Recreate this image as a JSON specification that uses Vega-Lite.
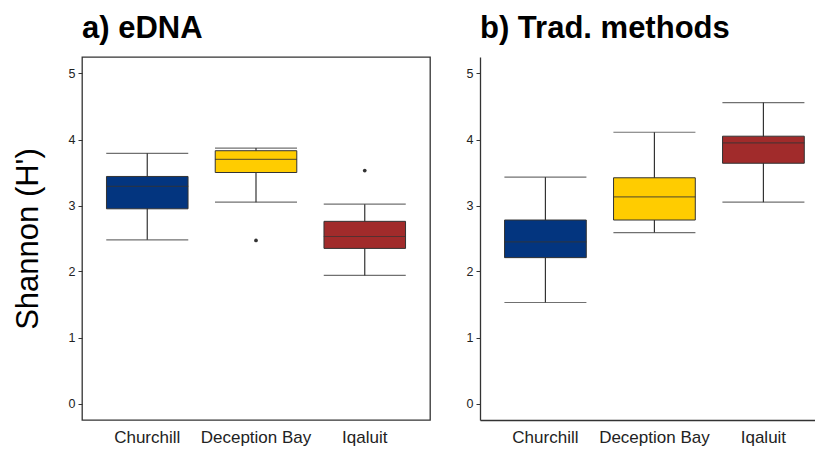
{
  "$schema": "https://vega.github.io/schema/vega-lite/v6.json",
  "padding": {"left": 11, "top": 12, "right": 0, "bottom": 0},
  "background": "white",
  "datasets": {
    "boxes": [
      {"panel": "eDNA", "site": "Churchill", "lower": 2.48, "q1": 2.95, "median": 3.29, "q3": 3.44, "upper": 3.79},
      {"panel": "eDNA", "site": "Deception Bay", "lower": 3.05, "q1": 3.50, "median": 3.70, "q3": 3.83, "upper": 3.87},
      {"panel": "eDNA", "site": "Iqaluit", "lower": 1.94, "q1": 2.35, "median": 2.53, "q3": 2.76, "upper": 3.02},
      {"panel": "Trad", "site": "Churchill", "lower": 1.53, "q1": 2.21, "median": 2.45, "q3": 2.78, "upper": 3.43},
      {"panel": "Trad", "site": "Deception Bay", "lower": 2.59, "q1": 2.78, "median": 3.13, "q3": 3.42, "upper": 4.11},
      {"panel": "Trad", "site": "Iqaluit", "lower": 3.05, "q1": 3.64, "median": 3.95, "q3": 4.05, "upper": 4.56}
    ],
    "outliers": [
      {"panel": "eDNA", "site": "Deception Bay", "value": 2.47},
      {"panel": "eDNA", "site": "Iqaluit", "value": 3.53}
    ]
  },
  "config": {
    "font": "Liberation Sans",
    "view": {"stroke": "#333333", "strokeWidth": 1.3},
    "axis": {
      "grid": false,
      "labelFont": "Liberation Sans",
      "titleFont": "Liberation Sans"
    },
    "title": {"font": "Liberation Sans", "fontSize": 31, "fontWeight": "bold", "color": "#000000", "anchor": "start", "frame": "group", "offset": 12}
  },
  "spacing": 35,
  "hconcat": [
    {
      "title": {"text": "a) eDNA"},
      "width": 348,
      "height": 363,
      "encoding": {
        "x": {
          "field": "site", "type": "nominal",
          "scale": {"type": "band", "paddingInner": 0.25, "paddingOuter": 0.225, "domain": ["Churchill", "Deception Bay", "Iqaluit"]},
          "axis": {"title": null, "ticks": false, "domain": false, "labelAngle": 0, "labelFontSize": 17, "labelColor": "#222222", "labelPadding": 9}
        }
      },
      "layer": [
        {
          "data": {"name": "boxes"},
          "transform": [{"filter": "datum.panel == 'eDNA'"}],
          "mark": {"type": "rule", "color": "#333333", "strokeWidth": 1.2},
          "encoding": {
            "y": {"field": "lower", "type": "quantitative",
              "scale": {"domain": [-0.25, 5.25], "nice": false, "zero": false},
              "axis": {"title": "Shannon (H')", "titleFontSize": 31, "titleFontWeight": "normal", "titleColor": "#000000", "titlePadding": 24,
                "values": [0, 1, 2, 3, 4, 5], "format": "d", "domain": false, "tickSize": 4, "tickColor": "#333333", "labelFontSize": 12.5, "labelColor": "#222222", "labelPadding": 3}},
            "y2": {"field": "upper"}
          }
        },
        {
          "data": {"name": "boxes"},
          "transform": [{"filter": "datum.panel == 'eDNA'"}],
          "mark": {"type": "tick", "color": "#333333", "thickness": 1.2, "size": 82},
          "encoding": {"y": {"field": "lower", "type": "quantitative"}}
        },
        {
          "data": {"name": "boxes"},
          "transform": [{"filter": "datum.panel == 'eDNA'"}],
          "mark": {"type": "tick", "color": "#333333", "thickness": 1.2, "size": 82},
          "encoding": {"y": {"field": "upper", "type": "quantitative"}}
        },
        {
          "data": {"name": "boxes"},
          "transform": [{"filter": "datum.panel == 'eDNA'"}],
          "mark": {"type": "bar", "stroke": "#333333", "strokeWidth": 1, "opacity": 1},
          "encoding": {
            "y": {"field": "q1", "type": "quantitative"},
            "y2": {"field": "q3"},
            "color": {"field": "site", "type": "nominal", "scale": {"domain": ["Churchill", "Deception Bay", "Iqaluit"], "range": ["#03357f", "#ffcc00", "#a12b2b"]}, "legend": null}
          }
        },
        {
          "data": {"name": "boxes"},
          "transform": [{"filter": "datum.panel == 'eDNA'"}],
          "mark": {"type": "tick", "color": "#333333", "thickness": 1.2, "size": 82},
          "encoding": {"y": {"field": "median", "type": "quantitative"}}
        },
        {
          "data": {"name": "outliers"},
          "transform": [{"filter": "datum.panel == 'eDNA'"}],
          "mark": {"type": "circle", "color": "#333333", "size": 14, "opacity": 1},
          "encoding": {"y": {"field": "value", "type": "quantitative"}}
        }
      ]
    },
    {
      "title": {"text": "b) Trad. methods"},
      "width": 335,
      "height": 363,
      "view": {"stroke": null},
      "encoding": {
        "x": {
          "field": "site", "type": "nominal",
          "scale": {"type": "band", "paddingInner": 0.25, "paddingOuter": 0.1617, "align": 0.696, "domain": ["Churchill", "Deception Bay", "Iqaluit"]},
          "axis": {"title": null, "ticks": false, "domain": true, "domainColor": "#333333", "domainWidth": 1.3, "labelAngle": 0, "labelFontSize": 17, "labelColor": "#222222", "labelPadding": 9}
        }
      },
      "layer": [
        {
          "data": {"name": "boxes"},
          "transform": [{"filter": "datum.panel == 'Trad'"}],
          "mark": {"type": "rule", "color": "#333333", "strokeWidth": 1.2},
          "encoding": {
            "y": {"field": "lower", "type": "quantitative",
              "scale": {"domain": [-0.25, 5.25], "nice": false, "zero": false},
              "axis": {"title": null, "values": [0, 1, 2, 3, 4, 5], "format": "d", "domain": true, "domainColor": "#333333", "domainWidth": 1.3, "tickSize": 4, "tickColor": "#333333", "labelFontSize": 12.5, "labelColor": "#222222", "labelPadding": 3}},
            "y2": {"field": "upper"}
          }
        },
        {
          "data": {"name": "boxes"},
          "transform": [{"filter": "datum.panel == 'Trad'"}],
          "mark": {"type": "tick", "color": "#333333", "thickness": 1.2, "size": 82},
          "encoding": {"y": {"field": "lower", "type": "quantitative"}}
        },
        {
          "data": {"name": "boxes"},
          "transform": [{"filter": "datum.panel == 'Trad'"}],
          "mark": {"type": "tick", "color": "#333333", "thickness": 1.2, "size": 82},
          "encoding": {"y": {"field": "upper", "type": "quantitative"}}
        },
        {
          "data": {"name": "boxes"},
          "transform": [{"filter": "datum.panel == 'Trad'"}],
          "mark": {"type": "bar", "stroke": "#333333", "strokeWidth": 1, "opacity": 1},
          "encoding": {
            "y": {"field": "q1", "type": "quantitative"},
            "y2": {"field": "q3"},
            "color": {"field": "site", "type": "nominal", "scale": {"domain": ["Churchill", "Deception Bay", "Iqaluit"], "range": ["#03357f", "#ffcc00", "#a12b2b"]}, "legend": null}
          }
        },
        {
          "data": {"name": "boxes"},
          "transform": [{"filter": "datum.panel == 'Trad'"}],
          "mark": {"type": "tick", "color": "#333333", "thickness": 1.2, "size": 82},
          "encoding": {"y": {"field": "median", "type": "quantitative"}}
        },
        {
          "mark": {"type": "rule", "color": "#333333", "strokeWidth": 1.3},
          "encoding": {"y": {"datum": 5.25, "type": "quantitative"}}
        }
      ]
    }
  ]
}
